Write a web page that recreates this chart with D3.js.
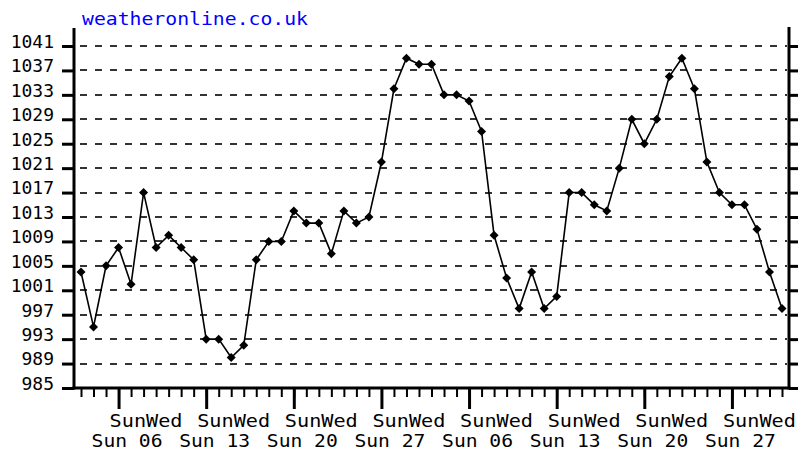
<!DOCTYPE html>
<html><head><meta charset="utf-8">
<script src="https://cdn.jsdelivr.net/npm/d3@7"></script>
<style>html,body{margin:0;padding:0;background:#fff;} svg{display:block}</style>
</head><body><svg id="c" width="798" height="453"></svg>
<script>
const startDate = "2022-02-03";
const endDate = "2022-03-31";
const pressure = [1004, 995, 1005, 1008, 1002, 1017, 1008, 1010, 1008, 1006,
  993, 993, 990, 992, 1006, 1009, 1009, 1014, 1012, 1012,
  1007, 1014, 1012, 1013, 1022, 1034, 1039, 1038, 1038, 1033,
  1033, 1032, 1027, 1010, 1003, 998, 1004, 998, 1000, 1017,
  1017, 1015, 1014, 1021, 1029, 1025, 1029, 1036, 1039, 1034,
  1022, 1017, 1015, 1015, 1011, 1004, 998];
const yTicks = [985, 989, 993, 997, 1001, 1005, 1009, 1013, 1017, 1021, 1025, 1029, 1033, 1037, 1041];
const weekTop = ["SunWed","SunWed","SunWed","SunWed","SunWed","SunWed","SunWed","SunWed"];
const weekBottom = ["Sun 06","Sun 13","Sun 20","Sun 27","Sun 06","Sun 13","Sun 20","Sun 27"];
const title = "weatheronline.co.uk";

const days = d3.utcDay.range(new Date(startDate + "T00:00:00Z"), d3.utcDay.offset(new Date(endDate + "T00:00:00Z"), 1));
const sundays = days.filter(d => d.getUTCDay() === 0);

const x = d3.scaleUtc().domain([days[0], days[days.length - 1]]).range([81, 782]);
const y = d3.scaleLinear().domain([985, 1041]).range([388, 46]);

const svg = d3.select("#c");
const font = "'DejaVu Sans Mono', 'Liberation Mono', monospace";

// title
svg.append("text").attr("x", 82).attr("y", 25).attr("fill", "#0000ff")
  .attr("font-family", font).attr("font-size", 17)
  .attr("textLength", 226).attr("lengthAdjust", "spacingAndGlyphs")
  .text(title);

// grid lines
svg.append("g").selectAll("line").data(yTicks.filter(t => t !== 985)).join("line")
  .attr("x1", 80).attr("x2", 787)
  .attr("y1", d => Math.round(y(d)) + 0).attr("y2", d => Math.round(y(d)) + 0)
  .attr("stroke", "#333").attr("stroke-width", 2).attr("stroke-dasharray", "7,8");

// left axis
const left = svg.append("g").attr("transform", "translate(74,0)")
  .call(d3.axisLeft(y).tickValues(yTicks).tickSize(12).tickPadding(8).tickFormat(d3.format("d")));
left.select(".domain").remove();
left.selectAll(".tick line").attr("stroke", "#000").attr("stroke-width", 3);
left.selectAll(".tick text").attr("dy", "0.35em").attr("y", -5)
  .attr("font-family", font).attr("font-size", 18).attr("fill", "#000");
svg.append("line").attr("x1", 74).attr("x2", 74).attr("y1", 28).attr("y2", 389.5)
  .attr("stroke", "#000").attr("stroke-width", 3);

// right axis
const right = svg.append("g").attr("transform", "translate(789,0)")
  .call(d3.axisRight(y).tickValues(yTicks).tickSize(10).tickFormat(""));
right.select(".domain").remove();
right.selectAll(".tick line").attr("stroke", "#000").attr("stroke-width", 3);
svg.append("line").attr("x1", 789).attr("x2", 789).attr("y1", 27).attr("y2", 389.5)
  .attr("stroke", "#000").attr("stroke-width", 3);

// bottom axis: daily ticks
const bottom = svg.append("g").attr("transform", "translate(0,388)")
  .call(d3.axisBottom(x).tickValues(days).tickSize(9).tickFormat(""));
bottom.select(".domain").remove();
bottom.selectAll(".tick line").attr("stroke", "#000").attr("stroke-width", 2);
// weekly major ticks
const major = svg.append("g").attr("transform", "translate(0,388)")
  .call(d3.axisBottom(x).tickValues(sundays).tickSize(21).tickFormat(""));
major.select(".domain").remove();
major.selectAll(".tick line").attr("stroke", "#000").attr("stroke-width", 3);
svg.append("line").attr("x1", 72.5).attr("x2", 790.5).attr("y1", 388).attr("y2", 388)
  .attr("stroke", "#000").attr("stroke-width", 3);

// week labels
svg.append("g").selectAll("text").data(sundays).join("text")
  .attr("x", d => x(d) - 9).attr("y", 427)
  .attr("font-family", font).attr("font-size", 18).attr("fill", "#000")
  .attr("textLength", 73).attr("lengthAdjust", "spacingAndGlyphs")
  .text((d, i) => weekTop[i]);
svg.append("g").selectAll("text").data(sundays).join("text")
  .attr("x", d => x(d) - 27).attr("y", 447)
  .attr("font-family", font).attr("font-size", 18).attr("fill", "#000")
  .attr("textLength", 71).attr("lengthAdjust", "spacingAndGlyphs")
  .text((d, i) => weekBottom[i]);

// series line
const line = d3.line().x((d, i) => x(days[i])).y(d => y(d));
svg.append("path").datum(pressure).attr("d", line)
  .attr("fill", "none").attr("stroke", "#000").attr("stroke-width", 1.6);

// markers
const r = 4.5;
svg.append("g").selectAll("path").data(pressure).join("path")
  .attr("transform", (d, i) => `translate(${x(days[i])},${y(d)})`)
  .attr("d", `M0,${-r}L${r},0L0,${r}L${-r},0Z`)
  .attr("fill", "#000");
</script></body></html>
